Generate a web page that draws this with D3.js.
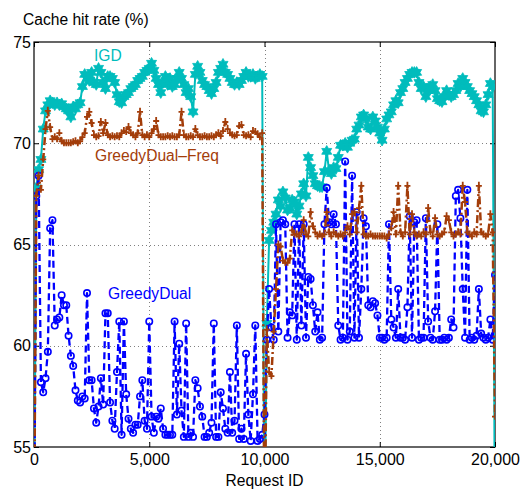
<!DOCTYPE html>
<html>
<head>
<meta charset="utf-8">
<script src="https://cdn.jsdelivr.net/npm/d3@7"></script>
<style>
    body { margin: 0; background: #fff; }
    svg text { font-family: "Liberation Sans", Arial, sans-serif; }
</style>
</head>
<body>
<svg id="chart" width="522" height="489"></svg>
<script>
// request id every 100 requests, 0 .. 20,000
const requestIds = d3.range(0, 20001, 100);

// values at the resets (0, 10,000, 20,000) fall below the axis floor and get clipped
const igdRate = [
    50, 67.8, 68.7, 69.2, 70.7, 71.6, 71.9, 72.1, 72.0, 71.9,
    72.0, 71.9, 71.95, 71.8, 71.7, 71.6, 71.3, 71.8, 71.7, 71.9,
    72.0, 72.8, 73.4, 73.2, 73.1, 73.5, 73.0, 72.9, 73.7, 73.5,
    73.0, 72.7, 73.3, 73.3, 73.2, 73.0, 72.4, 72.05, 72.0, 72.3,
    72.4, 72.5, 72.7, 72.8, 72.9, 73.1, 73.2, 73.3, 73.5, 73.6,
    73.7, 73.95, 73.6, 73.2, 72.9, 72.5, 73.0, 73.3, 72.9, 73.2,
    72.8, 72.9, 73.2, 73.5, 73.2, 72.9, 72.5, 72.7, 72.3, 71.55,
    73.4, 73.8, 73.5, 73.1, 72.9, 72.8, 72.6, 72.45, 72.7, 73.0,
    73.5, 73.7, 73.9, 73.5, 73.4, 73.2, 73.0, 72.9, 73.0, 72.9,
    73.1, 73.3, 73.5, 73.3, 73.3, 73.4, 73.2, 73.3, 73.4, 73.3,
    50,
    61.1, 65.2, 65.7, 66.1, 66.5, 67.2, 66.9, 67.6, 67.3, 66.7,
    66.8, 67.2, 67.1, 66.5, 66.9, 67.5, 68.0, 67.4, 69.3, 68.8,
    68.4, 68.0, 67.9, 67.85, 67.85, 68.6, 69.6, 68.65, 68.5, 68.8,
    68.75, 69.3, 69.9, 69.9, 70.0, 69.8, 70.0, 70.15, 70.2, 70.7,
    70.9, 71.3, 71.4, 71.2, 70.8, 70.7, 71.3, 71.1, 70.8, 70.5,
    70.15, 70.7, 71.2, 71.4, 71.55, 71.9, 72.1, 72.0, 72.5, 72.7,
    73.0, 73.2, 73.4, 73.5, 73.5, 73.5, 73.0, 72.7, 72.8, 72.3,
    72.6, 72.8, 72.9, 72.6, 72.2, 72.1, 72.05, 72.3, 72.6, 72.4,
    72.3, 72.4, 72.6, 72.95, 72.8, 73.2, 73.0, 72.8, 72.6, 72.45,
    72.3, 72.1, 71.9, 71.6, 71.55, 71.9, 72.4, 72.95, 72.8, 50
];

const freqRate = [
    50, 67.4, 68.4, 67.7, 69.2, 70.7, 71.6, 70.8, 70.2, 70.3,
    70.2, 70.5, 70.1, 70.0, 70.0, 70.0, 70.0, 70.05, 70.1, 70.0,
    70.1, 70.3, 70.5, 71.3, 71.55, 71.0, 70.4, 70.3, 70.35, 71.05,
    70.5, 71.0, 70.4, 70.3, 70.35, 70.3, 70.35, 70.3, 70.5, 70.6,
    70.55, 70.8, 70.5, 70.4, 70.3, 70.5, 71.55, 70.4, 70.3, 70.4,
    70.3, 70.5, 70.7, 71.1, 70.4, 70.3, 70.3, 70.3, 70.35, 70.3,
    70.35, 70.3, 70.3, 70.4, 71.55, 70.4, 70.3, 70.3, 70.35, 70.3,
    70.7, 70.4, 70.3, 70.3, 70.35, 70.3, 70.3, 70.35, 70.3, 70.4,
    70.5, 70.35, 70.6, 71.05, 70.7, 70.5, 70.4, 70.35, 70.4, 70.85,
    70.9, 70.4, 70.35, 70.4, 70.3, 70.6, 70.55, 70.45, 70.3, 70.5,
    50,
    60.8, 58.7, 58.5, 60.7, 62.8, 65.0, 64.9, 64.2, 64.1, 64.1,
    64.3, 65.7, 65.5, 65.5, 65.4, 65.6, 66.2, 65.5, 65.4, 66.6,
    65.9, 65.6, 65.4, 65.5, 65.4, 65.5, 66.6, 65.6, 65.4, 65.6,
    65.5, 65.4, 65.5, 65.4, 65.6, 65.9, 65.5, 66.5, 66.6, 65.6,
    66.8, 67.9, 65.5, 65.4, 65.4, 65.5, 65.4, 65.4, 65.4, 65.4,
    65.4, 65.4, 65.3, 65.5, 65.8, 66.6, 65.5, 67.9, 65.6, 65.4,
    65.6, 67.9, 65.5, 66.5, 65.6, 65.4, 65.5, 65.4, 65.6, 65.5,
    66.8, 65.6, 65.4, 66.3, 65.5, 65.4, 65.5, 65.6, 66.4, 66.2,
    65.6, 65.4, 65.5, 65.6, 65.5, 67.9, 67.1, 65.6, 65.5, 65.4,
    65.6, 65.5, 67.9, 65.6, 65.5, 65.4, 65.5, 66.5, 65.6, 56.5
];

const dualRate = [
    50, 67.4, 68.4, 58.2, 57.7, 58.4, 59.7, 65.8, 66.2, 61.0,
    61.3, 61.4, 62.5, 62.0, 62.0, 60.5, 59.5, 59.0, 57.8, 57.3,
    57.2, 57.5, 57.4, 62.6, 58.3, 58.3, 56.9, 56.2, 57.0, 58.4,
    57.1, 61.6, 61.6, 57.2, 56.3, 55.9, 58.7, 61.2, 55.6, 61.2,
    57.6, 56.4, 55.9, 55.7, 56.1, 56.1, 57.5, 58.3, 56.3, 55.9,
    61.2, 56.5, 55.7, 56.5, 56.4, 56.9, 55.9, 55.6, 55.6, 55.6,
    55.6, 61.2, 56.6, 60.1, 56.8, 55.5, 61.1, 55.5, 55.7, 55.5,
    58.3, 57.9, 57.0, 56.5, 55.5, 55.5, 55.7, 56.2, 61.1, 55.5,
    55.5, 57.7, 56.9, 55.9, 55.7, 58.7, 55.7, 56.3, 61.0, 55.4,
    55.9, 55.4, 59.6, 56.6, 55.3, 57.6, 61.0, 55.3, 55.4, 55.6,
    56.6,
    60.3, 62.8, 60.9, 60.3, 66.0, 60.7, 66.1, 66.2, 66.0, 60.4,
    61.65, 61.5, 66.0, 60.3, 66.0, 61.0, 66.0, 60.4, 63.4, 63.3,
    62.0, 60.7, 61.65, 60.3, 60.4, 66.0, 67.8, 66.1, 66.0, 66.5,
    66.0, 61.0, 60.3, 60.4, 69.1, 60.3, 60.7, 68.4, 60.4, 66.6,
    60.4, 62.8, 66.3, 65.9, 62.0, 61.9, 62.2, 62.1, 61.5, 60.4,
    60.4, 60.3, 60.4, 66.0, 61.3, 60.9, 60.4, 62.8, 60.4, 60.4,
    60.3, 61.9, 66.4, 60.4, 66.1, 66.2, 60.3, 60.4, 60.4, 66.3,
    61.2, 60.4, 60.3, 61.7, 66.0, 60.3, 60.3, 60.4, 60.3, 60.4,
    61.3, 60.9, 67.4, 67.7, 66.3, 62.8, 60.4, 67.7, 60.3, 60.4,
    60.3, 60.5, 62.8, 60.6, 60.4, 60.3, 60.4, 61.3, 60.3, 63.5
];

const xTicks = [0, 5000, 10000, 15000, 20000];
const yTicks = [55, 60, 65, 70, 75];
const gridX = [5000, 10000, 15000];
const gridY = [60, 65, 70];

const seriesNames = ['IGD', 'GreedyDual', 'GreedyDual\u2013Freq'];

class HitRateChart {
    constructor(container) {
        this.svg = d3.select(container);

        this.params = {
            margin: { top: 42, right: 27, bottom: 42, left: 34 },
            fontSize: 16,
            labelSize: 15.6,
            tickSize: 5
        };

        this.series = [
            { name: seriesNames[0], values: igdRate, color: '#00bcbc', dash: null, width: 2, marker: 'star', label: [94, 61] },
            { name: seriesNames[1], values: dualRate, color: '#0000ff', dash: '7,4', width: 2.3, marker: 'circle', label: [108, 299] },
            { name: seriesNames[2], values: freqRate, color: '#a33d0a', dash: '8,3,2,3', width: 2.5, marker: 'plus', label: [95, 161] }
        ];

        this.layout();
    }

    layout() {
        const m = this.params.margin;
        this.width = +this.svg.attr('width');
        this.height = +this.svg.attr('height');
        this.innerW = this.width - m.left - m.right;
        this.innerH = this.height - m.top - m.bottom;

        this.x = d3.scaleLinear().domain([0, 20000]).range([0, this.innerW]);
        this.y = d3.scaleLinear().domain([55, 75]).range([this.innerH, 0]);

        this.g = this.svg.append('g')
            .attr('transform', `translate(${m.left},${m.top})`);

        this.svg.append('defs')
            .append('clipPath')
            .attr('id', 'plot-clip')
            .append('rect')
            .attr('x', m.left)
            .attr('y', m.top)
            .attr('width', this.innerW)
            .attr('height', this.innerH);
    }

    render() {
        this.renderGrid();
        this.plot = this.svg.append('g')
            .attr('clip-path', 'url(#plot-clip)')
            .append('g')
            .attr('transform', `translate(${this.params.margin.left},${this.params.margin.top})`);
        this.series.forEach(s => this.renderSeries(s));
        this.renderAxes();
        this.renderLabels();
    }

    renderGrid() {
        const grid = this.g.append('g').attr('class', 'grid')
            .attr('stroke', '#808080')
            .attr('stroke-width', 1)
            .attr('stroke-dasharray', '1,3');

        grid.selectAll('line.gx').data(gridX).enter().append('line')
            .attr('x1', d => Math.round(this.x(d)) + 0.5)
            .attr('x2', d => Math.round(this.x(d)) + 0.5)
            .attr('y1', 0)
            .attr('y2', this.innerH);

        grid.selectAll('line.gy').data(gridY).enter().append('line')
            .attr('y1', d => Math.round(this.y(d)) + 0.5)
            .attr('y2', d => Math.round(this.y(d)) + 0.5)
            .attr('x1', 0)
            .attr('x2', this.innerW);
    }

    hexagram(r) {
        const pts = d3.range(12).map(i => {
            const a = -Math.PI / 2 + i * Math.PI / 6;
            const rr = i % 2 ? r / Math.sqrt(3) : r;
            return [rr * Math.cos(a), rr * Math.sin(a)];
        });
        return 'M' + pts.map(p => p.join(',')).join('L') + 'Z';
    }

    renderSeries(s) {
        const points = s.values.map((v, i) => [requestIds[i], v]);
        const group = this.plot.append('g').attr('class', 'series');

        const line = d3.line()
            .x(d => this.x(d[0]))
            .y(d => this.y(d[1]));

        group.append('path')
            .datum(points)
            .attr('d', line)
            .attr('fill', 'none')
            .attr('stroke', s.color)
            .attr('stroke-width', s.width)
            .attr('stroke-linejoin', 'round')
            .attr('stroke-dasharray', s.dash);

        const markers = group.selectAll('.marker')
            .data(points)
            .enter();

        if (s.marker === 'circle') {
            markers.append('circle')
                .attr('cx', d => this.x(d[0]))
                .attr('cy', d => this.y(d[1]))
                .attr('r', 3.2)
                .attr('fill', 'none')
                .attr('stroke', s.color)
                .attr('stroke-width', 1.6);
        } else if (s.marker === 'star') {
            const shape = this.hexagram(5.8);
            markers.append('path')
                .attr('d', shape)
                .attr('transform', d => `translate(${this.x(d[0])},${this.y(d[1])})`)
                .attr('fill', s.color)
                .attr('stroke', s.color)
                .attr('stroke-width', 0.8);
        } else {
            markers.append('path')
                .attr('d', 'M-3,0H3M0,-4V3')
                .attr('transform', d => `translate(${this.x(d[0])},${this.y(d[1])})`)
                .attr('fill', 'none')
                .attr('stroke', s.color)
                .attr('stroke-width', 1.8);
        }
    }

    renderAxes() {
        const fs = this.params.fontSize;
        const t = this.params.tickSize;

        const bottom = this.g.append('g')
            .attr('transform', `translate(0,${this.innerH})`)
            .call(d3.axisBottom(this.x).tickValues(xTicks)
                .tickFormat(d3.format(',')).tickSizeInner(-t).tickSizeOuter(0).tickPadding(7));
        const left = this.g.append('g')
            .call(d3.axisLeft(this.y).tickValues(yTicks)
                .tickSizeInner(-t).tickSizeOuter(0).tickPadding(3));
        const top = this.g.append('g')
            .call(d3.axisTop(this.x).tickValues(xTicks)
                .tickFormat('').tickSizeInner(-t).tickSizeOuter(0));
        const right = this.g.append('g')
            .attr('transform', `translate(${this.innerW},0)`)
            .call(d3.axisRight(this.y).tickValues(yTicks)
                .tickFormat('').tickSizeInner(-t).tickSizeOuter(0));

        [bottom, left, top, right].forEach(a => {
            a.select('.domain').remove();
            a.selectAll('line').attr('stroke', '#000');
            a.selectAll('text')
                .attr('fill', '#000')
                .style('font-size', `${fs}px`)
                .style('font-family', '"Liberation Sans", Arial, sans-serif');
        });

        this.g.append('rect')
            .attr('x', 0)
            .attr('y', 0)
            .attr('width', this.innerW)
            .attr('height', this.innerH)
            .attr('fill', 'none')
            .attr('stroke', '#000')
            .attr('stroke-width', 1.2);
    }

    renderLabels() {
        const m = this.params.margin;
        const ls = this.params.labelSize;

        this.svg.append('text')
            .attr('x', 23)
            .attr('y', 25)
            .style('font-size', `${ls}px`)
            .text('Cache hit rate (%)');

        this.svg.append('text')
            .attr('x', m.left + this.x(10000))
            .attr('y', 486)
            .attr('text-anchor', 'middle')
            .style('font-size', `${ls}px`)
            .text('Request ID');

        this.svg.selectAll('text.series-label')
            .data(this.series)
            .enter()
            .append('text')
            .attr('class', 'series-label')
            .attr('x', d => d.label[0])
            .attr('y', d => d.label[1])
            .attr('fill', d => d.color)
            .style('font-size', `${ls}px`)
            .text(d => d.name);
    }
}

const chart = new HitRateChart('#chart');
chart.render();
</script>
</body>
</html>
